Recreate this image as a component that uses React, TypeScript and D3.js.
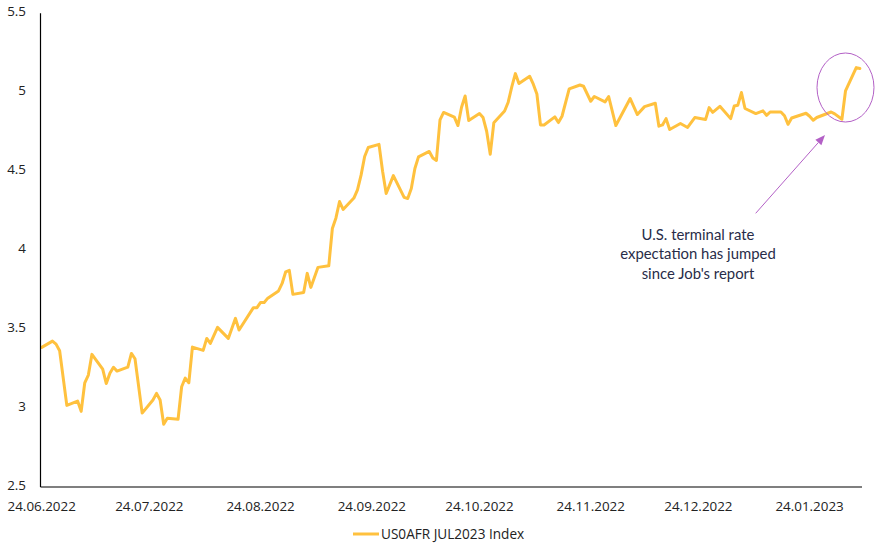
import React from "react";
import * as d3 from "d3";

const dates: string[] = [
  "2022-06-24","2022-06-27","2022-06-28","2022-06-29","2022-07-01","2022-07-04","2022-07-05","2022-07-06","2022-07-07","2022-07-08",
  "2022-07-11","2022-07-12","2022-07-13","2022-07-14","2022-07-15","2022-07-18","2022-07-19","2022-07-20","2022-07-22","2022-07-25",
  "2022-07-26","2022-07-27","2022-07-28","2022-07-29","2022-08-01","2022-08-02","2022-08-03","2022-08-04","2022-08-05","2022-08-08",
  "2022-08-09","2022-08-10","2022-08-12","2022-08-15","2022-08-17","2022-08-18","2022-08-22","2022-08-23","2022-08-24","2022-08-25",
  "2022-08-26","2022-08-29","2022-08-30","2022-08-31","2022-09-01","2022-09-02","2022-09-05","2022-09-06","2022-09-07","2022-09-09",
  "2022-09-12","2022-09-13","2022-09-14","2022-09-15","2022-09-16","2022-09-19","2022-09-20","2022-09-21","2022-09-22","2022-09-23",
  "2022-09-26","2022-09-27","2022-09-28","2022-09-30","2022-10-03","2022-10-04","2022-10-05","2022-10-06","2022-10-07","2022-10-10",
  "2022-10-11","2022-10-12","2022-10-13","2022-10-14","2022-10-17","2022-10-18","2022-10-19","2022-10-20","2022-10-21","2022-10-24",
  "2022-10-25","2022-10-26","2022-10-27","2022-10-28","2022-10-31","2022-11-01","2022-11-02","2022-11-03","2022-11-04","2022-11-07",
  "2022-11-08","2022-11-09","2022-11-10","2022-11-11","2022-11-14","2022-11-15","2022-11-16","2022-11-18","2022-11-21","2022-11-22",
  "2022-11-24","2022-11-25","2022-11-28","2022-11-29","2022-12-01","2022-12-05","2022-12-07","2022-12-09","2022-12-12","2022-12-13",
  "2022-12-14","2022-12-15","2022-12-16","2022-12-19","2022-12-21","2022-12-23","2022-12-26","2022-12-27","2022-12-28","2022-12-30",
  "2023-01-02","2023-01-03","2023-01-04","2023-01-05","2023-01-06","2023-01-09","2023-01-11","2023-01-12","2023-01-13","2023-01-16",
  "2023-01-17","2023-01-18","2023-01-19","2023-01-23","2023-01-24","2023-01-25","2023-01-26","2023-01-30","2023-01-31","2023-02-02",
  "2023-02-03","2023-02-06","2023-02-07",
];

const values: number[] = [
  3.384,3.424,3.405,3.363,3.017,3.044,2.979,3.160,3.209,3.340,
  3.246,3.155,3.220,3.258,3.234,3.259,3.346,3.312,2.968,3.051,
  3.093,3.051,2.897,2.935,2.929,3.135,3.190,3.160,3.386,3.365,
  3.441,3.409,3.511,3.441,3.568,3.494,3.636,3.636,3.669,3.669,
  3.696,3.742,3.789,3.863,3.872,3.720,3.732,3.853,3.764,3.891,
  3.901,4.137,4.204,4.308,4.258,4.330,4.382,4.475,4.593,4.650,
  4.670,4.500,4.359,4.472,4.334,4.327,4.390,4.517,4.591,4.625,
  4.584,4.568,4.825,4.872,4.842,4.789,4.905,4.976,4.821,4.865,
  4.840,4.753,4.608,4.807,4.881,4.937,5.034,5.118,5.055,5.101,
  5.051,4.989,4.793,4.793,4.844,4.808,4.848,5.021,5.046,5.038,
  4.943,4.973,4.939,4.973,4.789,4.960,4.859,4.909,4.930,4.785,
  4.793,4.833,4.764,4.802,4.777,4.840,4.827,4.903,4.873,4.911,
  4.833,4.913,4.918,4.998,4.897,4.865,4.882,4.854,4.875,4.875,
  4.851,4.797,4.837,4.867,4.848,4.823,4.840,4.875,4.863,4.829,
  5.008,5.156,5.150,
];

const yTicks: number[] = [2.5, 3, 3.5, 4, 4.5, 5, 5.5];
const xTickDates: string[] = [
  "2022-06-24","2022-07-24","2022-08-24","2022-09-24","2022-10-24","2022-11-24","2022-12-24","2023-01-24",
];
const seriesName = "US0AFR JUL2023 Index";
const annotationLines: string[] = [
  "U.S. terminal rate",
  "expectation has jumped",
  "since Job's report",
];
const highlightDate = "2023-02-03";
const highlightValue = 5.03;

const W = 882;
const H = 544;
const parse = d3.utcParse("%Y-%m-%d");
const fmt = d3.utcFormat("%d.%m.%Y");

export default function App() {
  const start = parse(dates[0]) as Date;
  const end = new Date(Date.UTC(2023, 1, 7, 14, 24));
  const x = d3.scaleUtc().domain([start, end]).range([41.7, 862]);
  const y = d3.scaleLinear().domain([2.5, 5.5]).range([487, 13.3]);

  const pts = dates.map((d, i) => ({ d: parse(d) as Date, v: values[i] }));
  const line = d3
    .line<{ d: Date; v: number }>()
    .x((p) => x(p.d))
    .y((p) => y(p.v))
    .curve(d3.curveLinear);

  const lineColor = "#FFC13E";
  const purple = "#B360C6";
  const axisX0 = 40.5;
  const axisY = 487;

  const cx = x(parse(highlightDate) as Date);
  const cy = y(highlightValue);

  // arrow
  const ax0 = 755.7, ay0 = 213.3, ax1 = 825, ay1 = 135;
  const ang = Math.atan2(ay1 - ay0, ax1 - ax0);
  const hl = 10, hw = 4;
  const bx = ax1 - hl * Math.cos(ang), by = ay1 - hl * Math.sin(ang);
  const head = [
    [ax1, ay1],
    [bx + hw * Math.sin(ang), by - hw * Math.cos(ang)],
    [bx - hw * Math.sin(ang), by + hw * Math.cos(ang)],
  ];

  const tickFont = "'Open Sans', sans-serif";

  return (
    <svg
      width={W}
      height={H}
      style={{ position: "absolute", left: 0, top: 0, background: "#fff" }}
    >
      <rect width={W} height={H} fill="#fff" />
      {/* y tick labels */}
      {yTicks.map((t) => (
        <text
          key={t}
          x={26}
          y={y(t) - 1.8}
          dy="0.35em"
          textAnchor="end"
          fontFamily={tickFont}
          fontSize={13.4}
          fill="#222"
        >
          {String(t)}
        </text>
      ))}
      {/* x tick labels */}
      {xTickDates.map((t) => (
        <text
          key={t}
          x={x(parse(t) as Date)}
          y={506}
          dy="0.35em"
          textAnchor="middle"
          fontFamily={tickFont}
          fontSize={13.4}
          fill="#222"
        >
          {fmt(parse(t) as Date)}
        </text>
      ))}
      {/* data line */}
      <path
        d={line(pts) || ""}
        fill="none"
        stroke={lineColor}
        strokeWidth={3}
        strokeLinejoin="round"
        strokeLinecap="round"
      />
      {/* axes */}
      <line x1={axisX0} x2={axisX0} y1={13.3} y2={axisY} stroke="#000" strokeWidth={1.2} />
      <line x1={axisX0} x2={862} y1={axisY} y2={axisY} stroke="#000" strokeWidth={1.2} />
      {/* highlight ellipse */}
      <ellipse cx={cx} cy={cy} rx={28.5} ry={34.5} fill="none" stroke={purple} strokeWidth={1} />
      {/* arrow */}
      <line x1={ax0} y1={ay0} x2={bx} y2={by} stroke={purple} strokeWidth={1} />
      <polygon points={head.map((p) => p.join(",")).join(" ")} fill={purple} />
      {/* annotation */}
      {annotationLines.map((l, i) => (
        <text
          key={i}
          x={698}
          y={239.5 + i * 19.5}
          textAnchor="middle"
          fontFamily="Lato, sans-serif"
          fontSize={14.9}
          fill="#282C48"
        >
          {l}
        </text>
      ))}
      {/* legend */}
      <line x1={353} x2={379} y1={534} y2={534} stroke={lineColor} strokeWidth={3} />
      <text
        x={381}
        y={534}
        dy="0.35em"
        fontFamily={tickFont}
        fontSize={13.6}
        fill="#222"
      >
        {seriesName}
      </text>
    </svg>
  );
}
